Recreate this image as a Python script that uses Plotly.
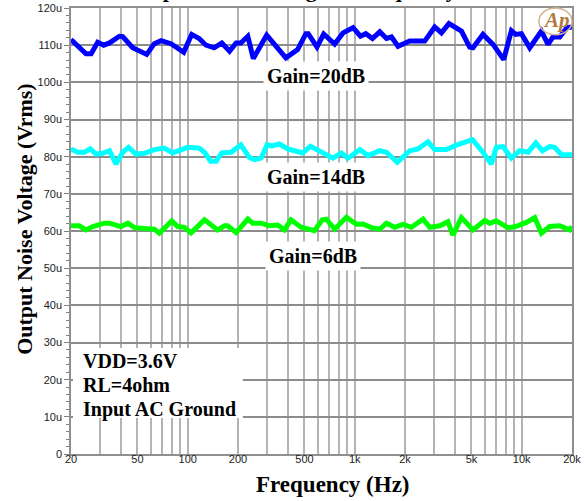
import numpy as np
import plotly.graph_objects as go

# ---------------- data ----------------
blue_f = [20, 24.6, 26.4, 28.9, 31.4, 34, 39, 40.8, 46.8, 51.4, 56.8, 63.1, 69.2, 79.4, 94.6, 105.6, 117, 128.6, 144, 160,
          178, 195, 208, 229, 247, 297, 338, 387, 455, 510, 527, 594, 652, 758, 851, 977, 1081, 1164, 1277, 1413,
          1549, 1660, 1816, 2134, 2624, 3013, 3304, 3666, 4355, 4876, 5106, 5861, 6730, 7800, 8670, 9200, 9954, 11170,
          13120, 14360, 15380, 16870, 18660, 20000]
blue_v = [111.5, 107.7, 107.7, 110.8, 110.0, 110.6, 112.4, 112.3, 109.3, 108.6, 107.5, 110.4, 111.2, 110.4, 108.1, 112.9,
          111.8, 110.0, 109.3, 110.6, 108.4, 110.6, 110.6, 112.4, 106.4, 112.7, 109.7, 106.6, 108.8, 113.1, 113.1, 109.5,
          113.0, 110.3, 113.3, 114.7, 112.4, 113.1, 111.8, 113.6, 111.8, 112.2, 109.7, 111.1, 111.1, 114.9, 113.3, 115.8,
          113.8, 109.5, 109.3, 112.9, 110.2, 106.1, 113.9, 112.9, 113.1, 109.3, 113.8, 110.2, 112.2, 112.2, 114.7, 114.9]

cyan_f = [20, 21.9, 24.1, 26.1, 28.3, 31.0, 34.0, 37.2, 40.8, 44.2, 49.0, 55.1, 63.1, 72.4, 81.3, 89.1, 100, 117, 126, 137,
          148, 160, 182, 208, 234, 251, 275, 299, 318, 354, 397, 436, 488, 543, 631, 741, 832, 912, 1072, 1200,
          1413, 1549, 1799, 2134, 2393, 2748, 3013, 3540, 4064, 4550, 5070, 5861, 6577, 7048, 7727, 8670, 9727, 10916,
          12134, 13306, 14690, 15740, 17298, 20000]
cyan_v = [82.1, 81.2, 81.2, 82.1, 80.7, 80.9, 81.6, 78.0, 81.2, 82.5, 80.7, 80.9, 81.9, 82.3, 81.0, 81.6, 82.5, 82.3, 81.2,
          78.8, 78.8, 81.0, 81.2, 83.2, 79.8, 79.2, 79.6, 83.2, 82.9, 83.4, 82.1, 81.6, 81.0, 82.8, 81.2, 79.6, 81.0, 79.6,
          81.9, 80.3, 81.6, 81.2, 78.5, 81.6, 82.1, 84.0, 81.9, 81.9, 83.1, 83.9, 84.6, 81.2, 78.0, 82.5, 82.7, 79.6, 81.6,
          81.2, 83.7, 81.6, 82.7, 82.5, 80.5, 80.5]

green_f = [20, 22.4, 24.6, 27.0, 31.7, 34.0, 39.8, 43.8, 48.0, 57.5, 63.1, 67.6, 80.2, 87.1, 95.5, 104.6, 126, 151, 166, 173,
           195, 229, 245, 275, 308, 346, 379, 415, 477, 573, 640, 676, 758, 891, 1023, 1120, 1259, 1413, 1549, 1734,
           1945, 2183, 2564, 2812, 3228, 3614, 3873, 4355, 5106, 6000, 6428, 7048, 8280, 9200, 10666, 11968, 13120, 14690,
           16870, 19360, 20000]
green_v = [61.4, 61.4, 60.3, 61.2, 62.1, 62.1, 61.2, 62.1, 60.9, 60.5, 60.5, 59.4, 62.7, 61.2, 61.0, 59.5, 63.0, 60.3, 61.4,
           61.4, 59.6, 63.2, 62.1, 62.1, 61.4, 61.6, 60.3, 63.0, 61.0, 60.1, 63.0, 63.2, 60.5, 63.7, 61.8, 61.9, 60.9, 60.5,
           62.1, 61.0, 61.8, 61.0, 63.2, 61.0, 61.4, 62.5, 58.9, 63.6, 60.3, 62.8, 62.1, 62.7, 60.9, 61.2, 62.3, 63.6, 59.4,
           61.2, 61.4, 60.3, 61.2]

x_tick_vals = [20, 50, 100, 200, 500, 1000, 2000, 5000, 10000, 20000]
x_tick_text = ["20", "50", "100", "200", "500", "1k", "2k", "5k", "10k", "20k"]
x_minor_vals = [30, 40, 60, 70, 80, 90, 300, 400, 600, 700, 800, 900,
                3000, 4000, 6000, 7000, 8000, 9000]
y_tick_vals = list(range(0, 121, 10))
y_tick_text = ["0"] + [f"{v}u" for v in range(10, 121, 10)]

gain_labels = ["Gain=20dB", "Gain=14dB", "Gain=6dB"]
gain_label_f = [584, 590, 560]
gain_label_v = [101.6, 74.6, 53.3]
cond_lines = ["VDD=3.6V", "RL=4ohm", "Input AC Ground"]
cond_v = [25.0, 18.6, 12.1]

SERIF = "Liberation Serif"
SANS = "Liberation Sans"

fig = go.Figure()
for f, v, c in [(blue_f, blue_v, "#0000ff"), (cyan_f, cyan_v, "#00ffff"), (green_f, green_v, "#00ff00")]:
    fig.add_trace(go.Scatter(x=f, y=v, mode="lines", line=dict(color=c, width=5), showlegend=False,
                             hoverinfo="skip"))

annotations = []
for t, f, v in zip(gain_labels, gain_label_f, gain_label_v):
    annotations.append(dict(x=np.log10(f), y=v, xref="x", yref="y", text=t, showarrow=False,
                            xanchor="center", yanchor="middle",
                            font=dict(family=SERIF, size=20, color="#000000", weight="bold"),
                            bgcolor="#ffffff", borderpad=3))
for t, v in zip(cond_lines, cond_v):
    annotations.append(dict(x=0, y=v, xref="paper", yref="y", xanchor="left", yanchor="middle", xshift=10, text=t,
                            showarrow=False, font=dict(family=SERIF, size=20, color="#000000", weight="bold")))
# clipped title at the top
annotations.append(dict(x=0.441, y=1, xref="paper", yref="paper", xanchor="center", yanchor="bottom", yshift=4,
                        text="Output Noise Voltage vs Frequency", showarrow=False,
                        font=dict(family=SERIF, size=22, color="#000000", weight="bold")))
# axis titles
annotations.append(dict(x=0.523, y=-0.0695, xref="paper", yref="paper", xanchor="center", yanchor="middle",
                        text="Frequency (Hz)", showarrow=False,
                        font=dict(family=SERIF, size=23, color="#000000", weight="bold")))
annotations.append(dict(x=-0.092, y=0.527, xref="paper", yref="paper", xanchor="center", yanchor="middle",
                        text="Output Noise Voltage (Vrms)", textangle=-90, showarrow=False,
                        font=dict(family=SERIF, size=22, color="#000000", weight="bold")))
# Ap logo
annotations.append(dict(x=0.970, y=0.973, xref="paper", yref="paper", xanchor="center", yanchor="middle",
                        text="<i>Ap</i>", showarrow=False,
                        font=dict(family=SERIF, size=21, color="#b07a3e", weight="bold")))

shapes = [
    dict(type="rect", xref="paper", yref="y", x0=0.004, x1=0.343, y0=9.7, y1=28.5,
         fillcolor="#ffffff", line=dict(width=0), layer="above"),
    dict(type="circle", xref="paper", yref="paper", x0=0.934, x1=1.0, y0=0.94, y1=1.0,
         line=dict(color="#d2b48c", width=1.5), layer="above"),
]

fig.update_layout(
    width=584, height=501,
    margin=dict(l=71, r=12, t=8, b=47),
    paper_bgcolor="#ffffff", plot_bgcolor="#ffffff",
    showlegend=False,
    annotations=annotations,
    shapes=shapes,
    xaxis=dict(
        type="log", range=[np.log10(20), np.log10(20000)], automargin=False,
        tickvals=x_tick_vals, ticktext=x_tick_text, ticks="", ticklabelstandoff=-6,
        showgrid=True, gridcolor="#b4b4b4", gridwidth=2,
        minor=dict(tickvals=x_minor_vals, showgrid=True, gridcolor="#b4b4b4", gridwidth=2, ticks=""),
        showline=True, mirror=True, linecolor="#909090", linewidth=1.5, zeroline=False,
        tickfont=dict(family=SANS, size=11, color="#222222"),
    ),
    yaxis=dict(
        range=[0, 120], tickvals=y_tick_vals, ticktext=y_tick_text, automargin=False,
        ticks="outside", ticklen=5, tickcolor="#808080", tickwidth=1,
        minor=dict(dtick=2, ticks="outside", ticklen=3, tickcolor="#808080", showgrid=False),
        showgrid=True, gridcolor="#8c8c8c", gridwidth=1.5,
        showline=True, mirror=True, linecolor="#909090", linewidth=1.5, zeroline=False,
        tickfont=dict(family=SANS, size=11, color="#222222"),
    ),
)

fig.write_html("out.html", config={"displayModeBar": False},
               post_script="document.body.style.margin='0';document.body.style.padding='0';")
